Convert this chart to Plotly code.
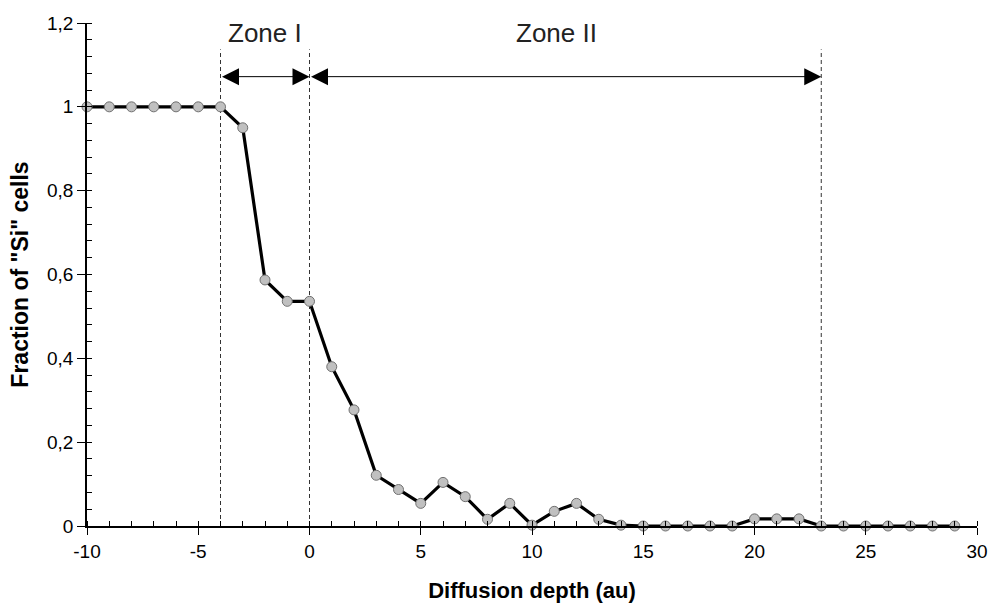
import plotly.graph_objects as go

# ---- data ----
depth = list(range(-10, 30))
fraction = [1, 1, 1, 1, 1, 1, 1,            # -10 .. -4
            0.95, 0.587, 0.536, 0.536,      # -3 .. 0
            0.38, 0.277, 0.121, 0.087, 0.054, 0.104, 0.07, 0.016, 0.054, 0.002,  # 1..10
            0.035, 0.054, 0.016, 0.002,     # 11..14
            0, 0, 0, 0, 0,                  # 15..19
            0.017, 0.017, 0.017,            # 20..22
            0, 0, 0, 0, 0, 0, 0]            # 23..29
zone_bounds = [-4, 0, 23]
zone_names = ["Zone I", "Zone II"]
y_tickvals = [0, 0.2, 0.4, 0.6, 0.8, 1.0, 1.2]
y_ticktext = ["0", "0,2", "0,4", "0,6", "0,8", "1", "1,2"]
x_tickvals = [-10, -5, 0, 5, 10, 15, 20, 25, 30]
x_ticktext = ["-10", "-5", "0", "5", "10", "15", "20", "25", "30"]

FONT = "Liberation Sans, Arial, sans-serif"

fig = go.Figure()

fig.add_trace(go.Scatter(
    x=depth, y=fraction, mode="lines+markers",
    line=dict(color="black", width=3.2),
    marker=dict(size=10, color="#c0c0c0", line=dict(color="#707070", width=1)),
    showlegend=False, cliponaxis=False,
))

ARROW_Y = 1.072
LINE_TOP = 1.137
LABEL_Y = 1.175

shapes = []
for b in zone_bounds:
    shapes.append(dict(type="line", xref="x", yref="y", x0=b, x1=b, y0=0, y1=LINE_TOP,
                       line=dict(color="#333333", width=1, dash="4px,3px"), layer="below"))

annotations = []
for i, name in enumerate(zone_names):
    a, b = zone_bounds[i], zone_bounds[i + 1]
    annotations.append(dict(
        x=b, y=ARROW_Y, ax=a, ay=ARROW_Y, xref="x", yref="y", axref="x", ayref="y",
        text="", showarrow=True, arrowhead=2, arrowside="end+start",
        arrowsize=3.4, arrowwidth=1, arrowcolor="black", standoff=0, startstandoff=0,
    ))
    annotations.append(dict(
        x=(a + b) / 2 - (0.4 if i == 1 else 0), y=LABEL_Y, xref="x", yref="y",
        text=name, showarrow=False, font=dict(family=FONT, size=26, color="#222222"),
    ))

fig.update_layout(
    width=988, height=603,
    margin=dict(l=87, r=11, t=23, b=77),
    paper_bgcolor="white", plot_bgcolor="white",
    font=dict(family=FONT, color="black"),
    shapes=shapes, annotations=annotations,
)

fig.update_xaxes(
    range=[-10, 30], showgrid=False, zeroline=False, automargin=False,
    showline=True, linecolor="black", linewidth=1.5,
    tickmode="array", tickvals=x_tickvals, ticktext=x_ticktext,
    ticks="outside", ticklen=7, tickwidth=1.2, tickcolor="black",
    tickfont=dict(family=FONT, size=19, color="black"),
    minor=dict(dtick=1, ticks="inside", ticklen=5, tickwidth=1, tickcolor="black", showgrid=False),
    title=dict(text="<b>Diffusion depth (au)</b>", font=dict(family=FONT, size=22, color="black"), standoff=22),
)
fig.update_yaxes(
    range=[0, 1.2], showgrid=False, zeroline=False, automargin=False,
    showline=True, linecolor="black", linewidth=1.5,
    tickmode="array", tickvals=y_tickvals, ticktext=y_ticktext,
    ticks="outside", ticklen=8, tickwidth=1.2, tickcolor="black",
    tickfont=dict(family=FONT, size=19, color="black"),
    minor=dict(dtick=0.04, ticks="inside", ticklen=5, tickwidth=1, tickcolor="black", showgrid=False),
    title=dict(text='<b>Fraction of "Si" cells</b>', font=dict(family=FONT, size=23, color="black"), standoff=12),
)

fig.write_html("out.html", config={"displayModeBar": False},
               post_script="document.body.style.margin='0';document.body.style.overflow='hidden';")
